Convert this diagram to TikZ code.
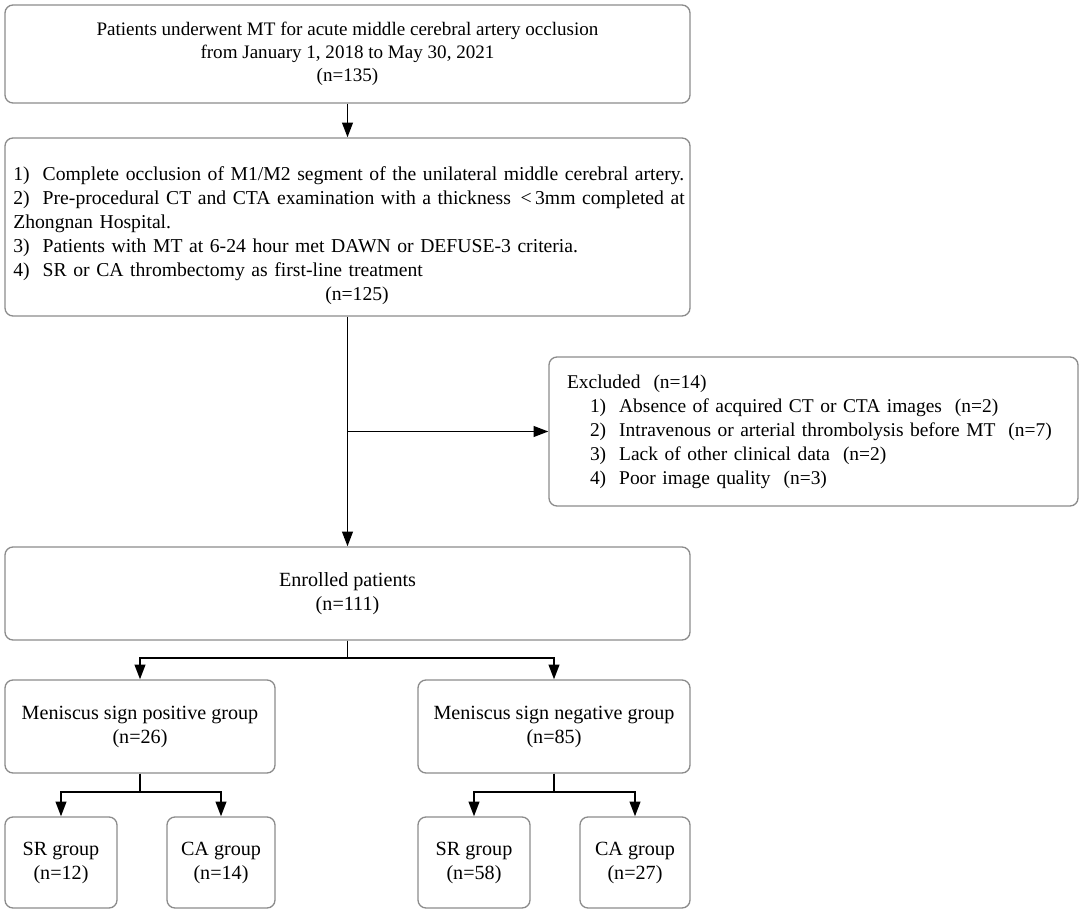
\documentclass[tikz,border=0pt]{standalone}
\usepackage{fontspec}
\setmainfont{Liberation Serif}
\usetikzlibrary{arrows.meta}
\newdimen\pxu \pxu=0.75pt
\begin{document}
\begin{tikzpicture}[x=0.75pt,y=-0.75pt,
  box/.style={draw={rgb,255:red,140;green,140;blue,140}, line width=1pt, rounded corners=6pt,
    font=\fontsize{15.1pt}{18pt}\selectfont, align=center, inner sep=0pt},
  txt/.style={font=\fontsize{14.75pt}{18pt}\selectfont, inner sep=0pt},
  arr/.style={line width=1.4pt, -{Triangle[length=11pt,width=8pt]}}]
\useasboundingbox (0,0) rectangle (1084,912);
% top box
\node[box, minimum width=685\pxu, minimum height=98\pxu, font=\fontsize{14.3pt}{17.25pt}\selectfont] (top) at (347.5,54)
  {Patients underwent MT for acute middle cerebral artery occlusion\\from January 1, 2018 to May 30, 2021\\(n=135)};
% criteria box
\node[box, minimum width=685\pxu, minimum height=178\pxu] (crit) at (347.5,227) {};
\node[txt, anchor=west, text width=700\pxu, align=left] (critt) at (13,236)
  {1)\ \ Complete occlusion of M1/M2 segment of the unilateral middle cerebral artery.\\
   2)\ \ Pre-procedural CT and CTA examination with a thickness\ \,{<}\,3mm completed at\\
   Zhongnan Hospital.\\
   3)\ \ Patients with MT at 6-24 hour met DAWN or DEFUSE-3 criteria.\\
   4)\ \ SR or CA thrombectomy as first-line treatment\\
   \hspace*{312\pxu}(n=125)};
% excluded box
\node[box, minimum width=529\pxu, minimum height=149\pxu, text width=493\pxu, align=left, inner xsep=18\pxu,
  font=\fontsize{14.6pt}{18pt}\selectfont] (excl) at (813.5,431.5)
  {Excluded\ \ (n=14)\\
   \hspace*{23\pxu}1)\ \ Absence of acquired CT or CTA images\ \ (n=2)\\
   \hspace*{23\pxu}2)\ \ Intravenous or arterial thrombolysis before MT\ \ (n=7)\\
   \hspace*{23\pxu}3)\ \ Lack of other clinical data\ \ (n=2)\\
   \hspace*{23\pxu}4)\ \ Poor image quality\ \ (n=3)};
% enrolled
\node[box, minimum width=685\pxu, minimum height=93\pxu] (enr) at (347.5,593.5) {Enrolled patients\\(n=111)};
% groups
\node[box, minimum width=270\pxu, minimum height=93\pxu] (pos) at (140,726.5) {Meniscus sign positive group\\(n=26)};
\node[box, minimum width=272\pxu, minimum height=93\pxu] (neg) at (554,726.5) {Meniscus sign negative group\\(n=85)};
% bottom
\node[box, minimum width=112\pxu, minimum height=91\pxu] (sr1) at (61,862.5) {SR group\\(n=12)};
\node[box, minimum width=108\pxu, minimum height=91\pxu] (ca1) at (221,862.5) {CA group\\(n=14)};
\node[box, minimum width=112\pxu, minimum height=91\pxu] (sr2) at (474,862.5) {SR group\\(n=58)};
\node[box, minimum width=110\pxu, minimum height=91\pxu] (ca2) at (635,862.5) {CA group\\(n=27)};
% connectors
\draw[arr] (top.south) -- (crit.north);
\coordinate (br) at (347.5,431.5);
\draw[arr] (crit.south) -- (enr.north);
\draw[arr] (br) -- (excl.west);
\draw[arr] (enr.south) -- ++(0,17) -| (pos.north);
\draw[arr] (enr.south) -- ++(0,17) -| (neg.north);
\draw[arr] (pos.south) -- ++(0,18) -| (sr1.north);
\draw[arr] (pos.south) -- ++(0,18) -| (ca1.north);
\draw[arr] (neg.south) -- ++(0,18) -| (sr2.north);
\draw[arr] (neg.south) -- ++(0,18) -| (ca2.north);
\end{tikzpicture}
\end{document}
